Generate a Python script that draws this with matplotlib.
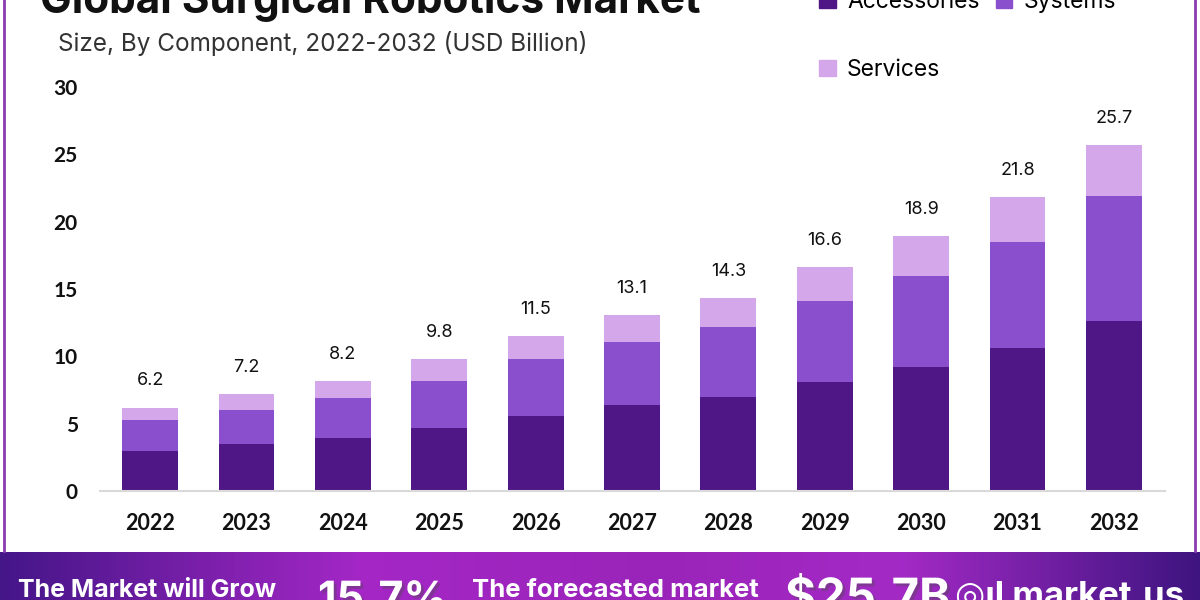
import numpy as np
import matplotlib
matplotlib.use("Agg")
import matplotlib.pyplot as plt
from matplotlib.colors import LinearSegmentedColormap
from matplotlib.lines import Line2D
from matplotlib.patches import Patch
import matplotlib.patheffects as pe

years = ["2022", "2023", "2024", "2025", "2026", "2027", "2028", "2029", "2030", "2031", "2032"]
accessories = [3.0, 3.5, 3.9, 4.7, 5.6, 6.4, 7.0, 8.1, 9.2, 10.6, 12.6]
systems = [2.3, 2.5, 3.0, 3.5, 4.2, 4.7, 5.2, 6.0, 6.8, 7.9, 9.3]
totals = [6.2, 7.2, 8.2, 9.8, 11.5, 13.1, 14.3, 16.6, 18.9, 21.8, 25.7]
services = [round(t - a - s, 2) for t, a, s in zip(totals, accessories, systems)]
yticks = [0, 5, 10, 15, 20, 25, 30]

c_acc = "#4f1786"
c_sys = "#8a4fcc"
c_srv = "#d3a7ea"

fig = plt.figure(figsize=(12, 6), dpi=100)
W, H = 1200, 600

ax = fig.add_axes([100 / W, (H - 491) / H, (1165 - 100) / W, (491 - 87) / H])
x = np.arange(len(years))
bw = 0.58
ax.bar(x, accessories, bw, color=c_acc, label="Accessories")
ax.bar(x, systems, bw, bottom=accessories, color=c_sys, label="Systems")
bot2 = [a + s for a, s in zip(accessories, systems)]
ax.bar(x, services, bw, bottom=bot2, color=c_srv, label="Services")

for xi, t in zip(x, totals):
    ax.annotate(f"{t}", (xi, t), xytext=(0, 13), textcoords="offset points",
                ha="center", va="bottom", fontsize=13, family="Inter", color="#111111")

ax.set_xlim(-0.52, 10.53)
ax.set_ylim(0, 30)
ax.set_yticks(yticks)
ax.set_yticklabels([str(v) for v in yticks])
ax.set_xticks(x)
ax.set_xticklabels(years)
for sp in ["left", "right", "top"]:
    ax.spines[sp].set_visible(False)
ax.spines["bottom"].set_color("#d9d9d9")
ax.spines["bottom"].set_linewidth(1.5)
ax.tick_params(axis="both", length=0)
ax.tick_params(axis="y", pad=16)
ax.tick_params(axis="x", pad=16)
for lab in ax.get_yticklabels():
    lab.set_fontfamily("Lato")
    lab.set_fontweight("bold")
    lab.set_fontsize(15)
    lab.set_color("#111111")
for lab in ax.get_xticklabels():
    lab.set_fontfamily("Lato")
    lab.set_fontweight("bold")
    lab.set_fontsize(15.5)
    lab.set_color("#111111")

# legend
handles = [Patch(color=c_acc, label="Accessories"),
           Patch(color=c_srv, label="Services"),
           Patch(color=c_sys, label="Systems")]
leg = fig.legend(handles=handles, ncol=2, loc="upper left",
                 bbox_to_anchor=(810 / W, 1 + 18 / H), frameon=False,
                 prop={"family": "Inter", "size": 16.5}, handlelength=0.72,
                 handleheight=0.72, handletextpad=0.5, labelspacing=2.0,
                 columnspacing=0.7, borderaxespad=0)

# titles
fig.text(40 / W, 1 - 13 / H, "Global Surgical Robotics Market", fontsize=30.5,
         fontweight="bold", family="Inter", color="#111111", va="baseline", ha="left")
fig.text(58 / W, 1 - 44 / H, "Size, By Component, 2022-2032 (USD Billion)", fontsize=17.5,
         family="Inter", color="#333333", va="center", ha="left")

# frame lines
fig.add_artist(Line2D([4 / W, 4 / W], [(H - 551) / H, 1], transform=fig.transFigure,
                      color="#8a3cb0", lw=2))
fig.add_artist(Line2D([1195 / W, 1195 / W], [(H - 551) / H, 1], transform=fig.transFigure,
                      color="#8a3cb0", lw=2))

# bottom banner
bh = 48
bax = fig.add_axes([0, 0, 1, bh / H])
cmap = LinearSegmentedColormap.from_list("ban", [(0, "#451688"), (0.3, "#a427c6"),
                                                  (0.55, "#9a24b9"), (0.75, "#a42ac6"),
                                                  (1, "#3e1480")])
grad = np.linspace(0, 1, 512).reshape(1, -1)
bax.imshow(grad, aspect="auto", cmap=cmap, extent=[0, 1, 0, 1])
bax.set_xlim(0, 1)
bax.set_ylim(0, 1)
bax.axis("off")
shadow = [pe.withSimplePatchShadow(offset=(2, -2), alpha=0.4)]
bax.text(18 / W, 3 / bh, "The Market will Grow", color="white", fontsize=18, fontweight="bold",
         family="Inter", va="baseline", ha="left", clip_on=False)
bax.text(318 / W, -12 / bh, "15.7%", color="white", fontsize=31, fontweight="bold",
         family="Inter", va="baseline", ha="left", path_effects=shadow)
bax.text(472 / W, 3 / bh, "The forecasted market", color="white", fontsize=18.5, fontweight="bold",
         family="Inter", va="baseline", ha="left")
bax.text(785 / W, -12 / bh, "$25.7B", color="white", fontsize=34, fontweight="bold",
         family="Inter", va="baseline", ha="left", path_effects=shadow)
bax.text(955 / W, -6 / bh, "◎ıl market.us", color="white", fontsize=25, fontweight="bold",
         family=["Inter", "DejaVu Sans"], va="baseline", ha="left")

fig.savefig("out.png", dpi=100)
